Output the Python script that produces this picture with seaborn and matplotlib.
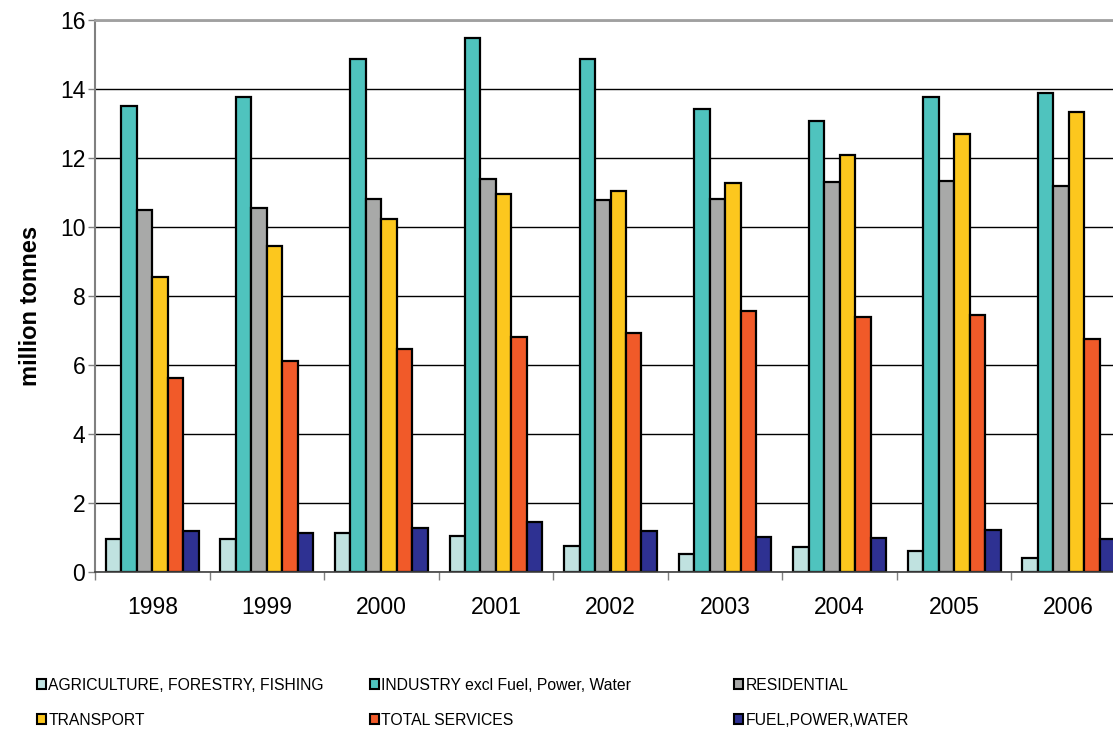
import matplotlib
matplotlib.use("Agg")
import matplotlib.pyplot as plt
from matplotlib.patches import Patch
import seaborn as sns
import pandas as pd

years = ["1998", "1999", "2000", "2001", "2002", "2003", "2004", "2005", "2006"]
sectors = [
    "AGRICULTURE, FORESTRY, FISHING",
    "INDUSTRY excl Fuel, Power, Water",
    "RESIDENTIAL",
    "TRANSPORT",
    "TOTAL SERVICES",
    "FUEL,POWER,WATER",
]
agriculture = [0.95, 0.95, 1.13, 1.03, 0.75, 0.51, 0.72, 0.61, 0.42]
industry = [13.50, 13.78, 14.87, 15.47, 14.88, 13.43, 13.07, 13.78, 13.89]
residential = [10.50, 10.56, 10.82, 11.39, 10.77, 10.82, 11.29, 11.33, 11.20]
transport = [8.56, 9.46, 10.22, 10.96, 11.03, 11.27, 12.08, 12.69, 13.33]
services = [5.62, 6.13, 6.45, 6.82, 6.93, 7.56, 7.39, 7.45, 6.76]
fuel = [1.19, 1.12, 1.27, 1.46, 1.20, 1.02, 1.00, 1.22, 0.97]
colors = ["#C0E2E0", "#4FC3BE", "#A8A9A8", "#FCC71E", "#F15A29", "#2E3192"]
y_ticks = [0, 2, 4, 6, 8, 10, 12, 14, 16]

series = [agriculture, industry, residential, transport, services, fuel]
df = pd.DataFrame(
    [(y, s, v) for s, vals in zip(sectors, series) for y, v in zip(years, vals)],
    columns=["year", "sector", "value"],
)

sns.set_style("white", {"text.color": "black", "axes.labelcolor": "black",
                        "xtick.color": "black", "ytick.color": "black"})
plt.rcParams["font.family"] = ["Liberation Sans", "DejaVu Sans"]

fig = plt.figure(figsize=(11.13, 7.29), dpi=100)
ax = fig.add_axes([95 / 1113, 157 / 729, 1031 / 1113, 552 / 729])

sns.barplot(
    data=df, x="year", y="value", hue="sector", order=years, hue_order=sectors,
    palette=colors, width=0.81, edgecolor="black", linewidth=1.6,
    legend=False, ax=ax, saturation=1,
)

ax.set_ylim(0, 16)
ax.set_xlim(-0.5, len(years) - 0.5)
ax.set_yticks(y_ticks)
ax.set_yticklabels([str(t) for t in y_ticks], fontsize=16.5)
ax.yaxis.grid(True, color="black", linewidth=1)
ax.set_axisbelow(True)

# category boundaries carry the tick marks, centres carry the labels
ax.set_xticks([i - 0.5 for i in range(len(years) + 1)])
ax.set_xticklabels([])
ax.set_xticks(range(len(years)), minor=True)
ax.set_xticklabels(years, minor=True, fontsize=16.5)
ax.tick_params(axis="x", which="major", length=6, width=1, color="#808080", bottom=True)
ax.tick_params(axis="x", which="minor", length=0, pad=17)
ax.tick_params(axis="y", length=5, width=1, color="#808080", left=True, pad=2)

ax.set_xlabel("")
ax.set_ylabel("million tonnes", fontsize=17, fontweight="bold")
ax.yaxis.set_label_coords(-0.051, 0.482)

ax.spines["top"].set_color("#A0A0A0")
ax.spines["top"].set_linewidth(2)
ax.spines["left"].set_color("#808080")
ax.spines["left"].set_linewidth(1.5)
ax.spines["bottom"].set_color("#404040")
ax.spines["bottom"].set_linewidth(1.2)
ax.spines["right"].set_visible(False)

# legend in three columns, two rows each
col_x = [37 / 1113, 370 / 1113, 734 / 1113]
for c in range(3):
    idx = [c, c + 3]
    handles = [Patch(facecolor=colors[i], edgecolor="black", linewidth=1.5) for i in idx]
    leg = fig.legend(
        handles, [sectors[i] for i in idx], loc="upper left",
        bbox_to_anchor=(col_x[c], 1 - 678 / 729), frameon=False, fontsize=11.3,
        handlelength=0.6, handleheight=0.6, handletextpad=0.12,
        labelspacing=1.25, borderpad=0, borderaxespad=0,
    )

fig.savefig("out.png", dpi=100)
